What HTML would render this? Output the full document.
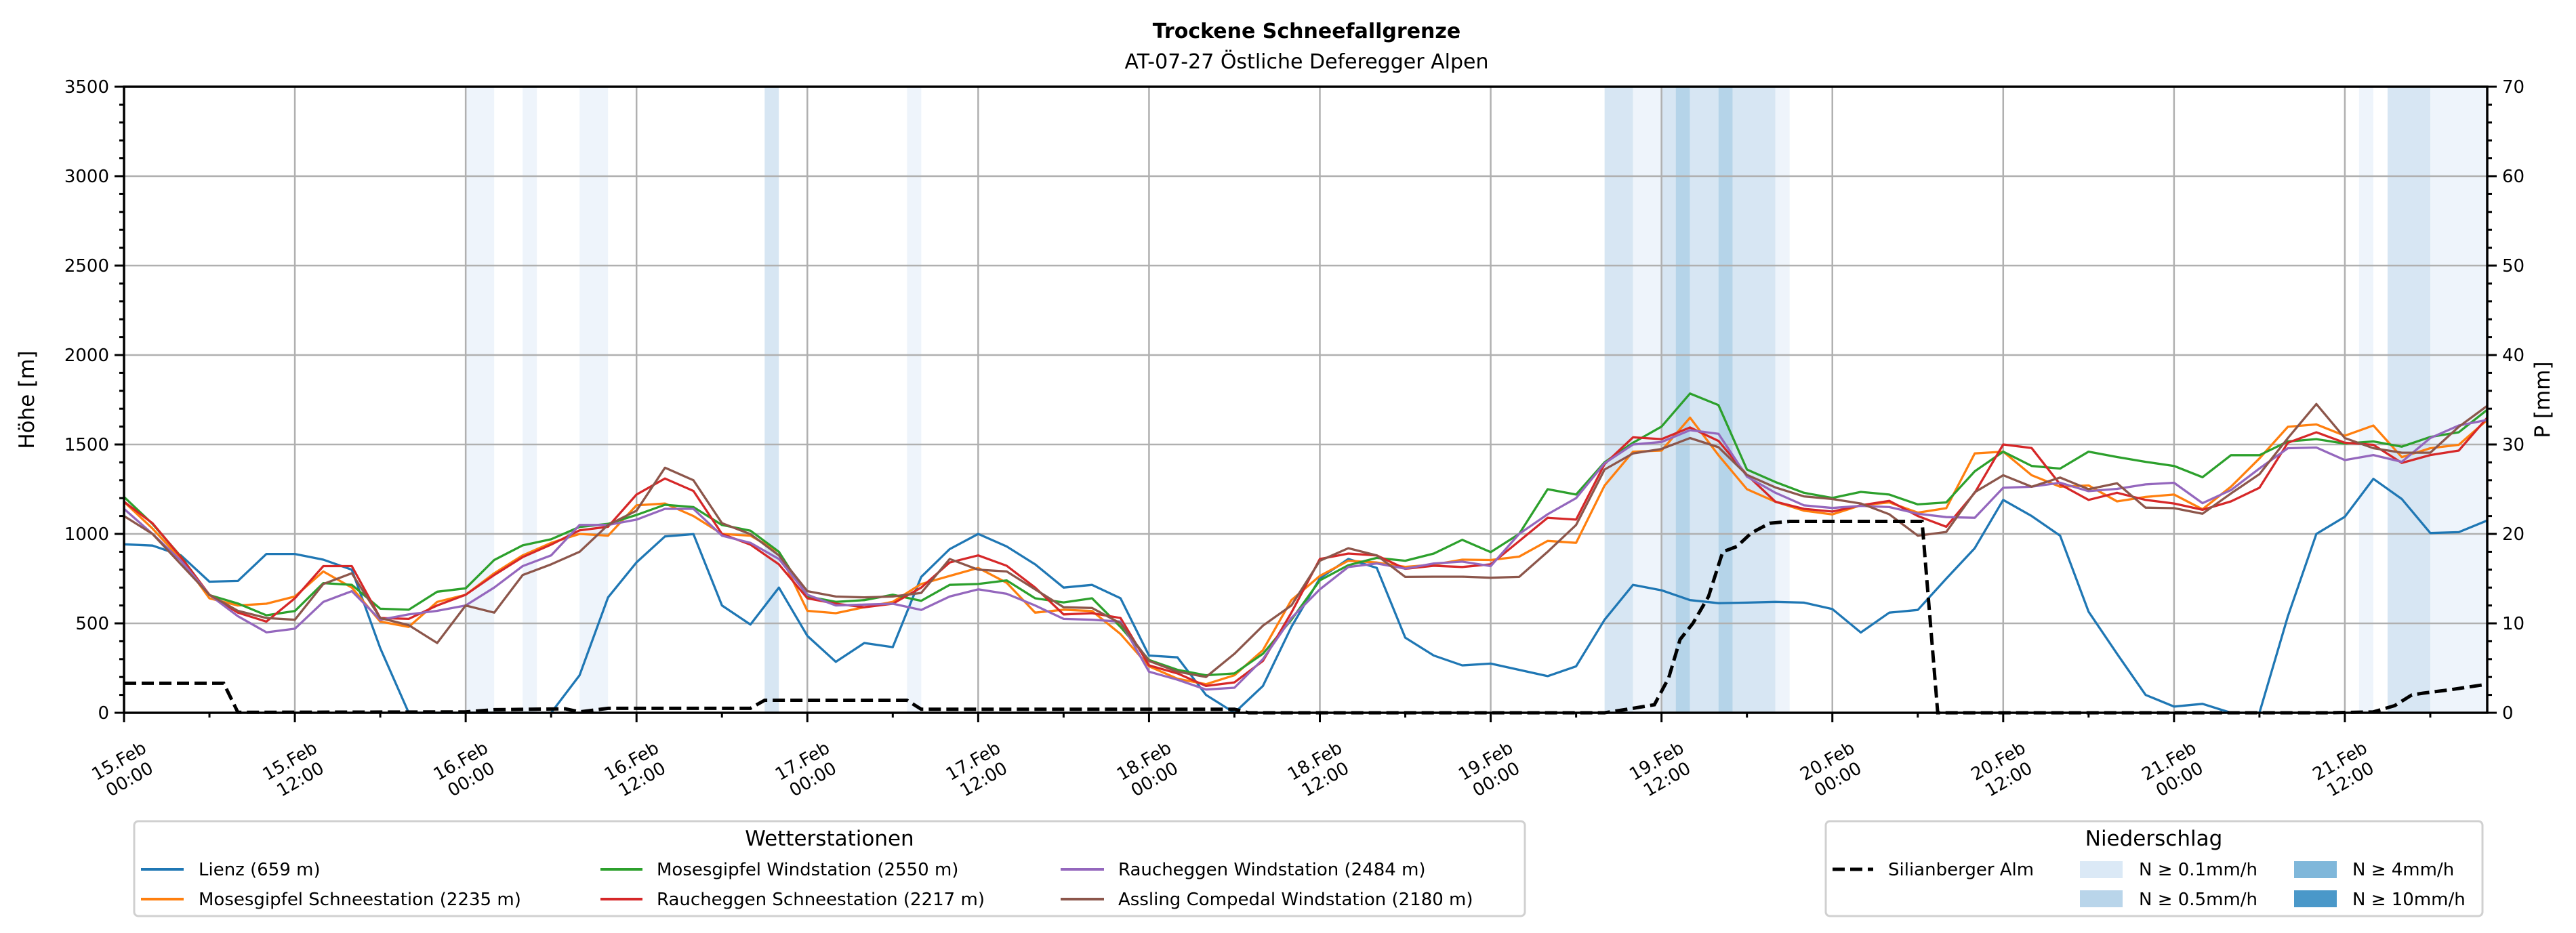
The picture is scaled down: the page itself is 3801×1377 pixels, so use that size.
<!DOCTYPE html>
<html><head><meta charset="utf-8"><style>
html,body{margin:0;padding:0;background:#fff;}
svg{display:block;font-family:"DejaVu Sans","Liberation Sans",sans-serif;}
</style></head><body>
<svg id="chart" width="3801" height="1377" viewBox="0 0 3801 1377" xmlns="http://www.w3.org/2000/svg">
<rect width="3801" height="1377" fill="#fff"/>
<text x="1928" y="56" text-anchor="middle" font-size="30" font-weight="bold">Trockene Schneefallgrenze</text>
<text x="1928" y="101" text-anchor="middle" font-size="30">AT-07-27 Östliche Deferegger Alpen</text>
<g id="bands"></g>
<g id="grid"></g>
<g id="series"></g>
<g id="axes"></g>
<text transform="translate(50,590) rotate(-90)" text-anchor="middle" font-size="31">Höhe [m]</text>
<text transform="translate(3762,590) rotate(-90)" text-anchor="middle" font-size="31">P [mm]</text>
<g>
<rect x="198" y="1212" width="2052" height="140" rx="6" fill="#fff" stroke="#d0d0d0" stroke-width="3"/>
<text x="1224" y="1248" text-anchor="middle" font-size="31">Wetterstationen</text>
<line x1="208" y1="1283" x2="271" y2="1283" stroke="#1f77b4" stroke-width="4"/><text x="293" y="1292" font-size="26">Lienz (659 m)</text>
<line x1="208" y1="1327" x2="271" y2="1327" stroke="#ff7f0e" stroke-width="4"/><text x="293" y="1336" font-size="26">Mosesgipfel Schneestation (2235 m)</text>
<line x1="886" y1="1283" x2="948" y2="1283" stroke="#2ca02c" stroke-width="4"/><text x="969" y="1292" font-size="26">Mosesgipfel Windstation (2550 m)</text>
<line x1="886" y1="1327" x2="948" y2="1327" stroke="#d62728" stroke-width="4"/><text x="969" y="1336" font-size="26">Raucheggen Schneestation (2217 m)</text>
<line x1="1565" y1="1283" x2="1629" y2="1283" stroke="#9467bd" stroke-width="4"/><text x="1650" y="1292" font-size="26">Raucheggen Windstation (2484 m)</text>
<line x1="1565" y1="1327" x2="1629" y2="1327" stroke="#8c564b" stroke-width="4"/><text x="1650" y="1336" font-size="26">Assling Compedal Windstation (2180 m)</text>
</g>
<g>
<rect x="2694" y="1212" width="969" height="140" rx="6" fill="#fff" stroke="#d0d0d0" stroke-width="3"/>
<text x="3178" y="1248" text-anchor="middle" font-size="31">Niederschlag</text>
<line x1="2704" y1="1283" x2="2764" y2="1283" stroke="#000" stroke-width="5" stroke-dasharray="18,8"/><text x="2786" y="1292" font-size="26">Silianberger Alm</text>
<rect x="3069" y="1271" width="63" height="25" fill="#dbe9f6"/><text x="3156" y="1292" font-size="26">N ≥ 0.1mm/h</text>
<rect x="3069" y="1314" width="63" height="25" fill="#b9d5ea"/><text x="3156" y="1336" font-size="26">N ≥ 0.5mm/h</text>
<rect x="3385" y="1271" width="63" height="25" fill="#7fb7da"/><text x="3471" y="1292" font-size="26">N ≥ 4mm/h</text>
<rect x="3385" y="1314" width="63" height="25" fill="#4a98c9"/><text x="3471" y="1336" font-size="26">N ≥ 10mm/h</text>
</g>
</svg>
<script>
const hours = [0,2,4,6,8,10,12,14,16,18,20,22,
24,26,28,30,32,34,36,38,40,42,44,46,
48,50,52,54,56,58,60,62,64,66,68,70,
72,74,76,78,80,82,84,86,88,90,92,94,
96,98,100,102,104,106,108,110,112,114,116,118,
120,122,124,126,128,130,132,134,136,138,140,142,
144,146,148,150,152,154,156,158,160,162,164,166];
const lienz = [942,935,880,733,737,888,888,856,800,361,0,0,
0,0,0,0,210,645,841,986,999,600,493,700,
430,285,390,367,760,915,1000,930,830,700,715,640,
320,310,100,0,150,480,752,860,810,420,320,265,
275,240,205,260,520,715,685,630,613,616,620,616,
580,449,560,575,750,920,1190,1100,990,565,330,100,
35,50,0,0,540,1000,1096,1308,1195,1005,1010,1075];
const mosesSchnee = [1180,1030,860,640,600,610,650,790,700,510,480,620,
660,780,880,950,1000,990,1160,1170,1100,1000,990,900,
570,557,590,620,720,765,810,727,560,576,569,440,
260,190,160,210,350,630,765,850,840,816,828,856,
854,873,961,950,1270,1460,1466,1650,1440,1250,1180,1130,
1109,1160,1176,1119,1144,1450,1460,1328,1264,1271,1182,1207,
1220,1138,1264,1422,1599,1612,1549,1606,1429,1479,1498,1637];
const mosesWind = [1207,1056,873,658,611,545,569,725,715,582,576,677,
696,854,936,970,1039,1056,1106,1163,1150,1050,1018,900,
650,620,630,660,626,715,720,740,640,617,640,480,
295,240,210,220,330,520,740,825,866,850,890,967,
898,1000,1250,1220,1400,1510,1600,1785,1720,1360,1290,1230,
1201,1235,1220,1165,1176,1350,1460,1380,1365,1460,1430,1403,
1380,1317,1440,1440,1517,1530,1505,1517,1488,1542,1568,1694];
const rauchSchnee = [1180,1060,870,660,560,510,640,820,820,530,525,600,
660,770,870,940,1020,1040,1220,1310,1240,1000,940,830,
640,610,590,610,700,840,880,822,700,550,557,530,
265,220,150,170,290,560,860,890,880,805,822,815,
830,960,1090,1080,1390,1540,1530,1595,1520,1330,1180,1140,
1125,1160,1185,1100,1040,1230,1500,1480,1277,1190,1230,1190,
1170,1135,1182,1258,1510,1568,1510,1498,1397,1441,1466,1650];
const rauchWind = [1140,1000,850,660,540,450,470,620,680,520,550,570,
600,700,820,880,1050,1050,1080,1140,1140,990,950,860,
660,600,605,610,575,650,690,665,600,525,520,510,
230,185,130,140,300,530,690,815,835,806,835,845,
820,1000,1110,1200,1395,1500,1514,1580,1560,1320,1230,1160,
1145,1157,1150,1113,1094,1090,1258,1264,1286,1239,1252,1277,
1286,1172,1245,1366,1479,1483,1413,1441,1403,1536,1606,1637];
const assling = [1100,1000,830,660,570,530,520,720,780,530,490,390,
600,560,770,830,900,1050,1130,1370,1300,1060,999,880,
680,650,645,650,670,860,800,790,690,590,586,500,
290,230,200,330,487,600,850,920,880,760,761,761,
755,760,900,1050,1360,1450,1475,1536,1485,1330,1260,1210,
1195,1170,1110,990,1011,1233,1328,1264,1315,1250,1283,1147,
1144,1113,1226,1334,1536,1726,1536,1479,1454,1454,1599,1716];
const precipHours = [0,7,8,24,26,31,32,34,44,45,55,56,78,79,104,106,107.5,108.5,109.3,110.2,111.3,112.3,113.3,114.3,115.6,117,126.3,127.4,155,158,159.5,160.7,161.5,163.5,166];
const precipMm = [3.3,3.3,0.05,0.1,0.35,0.45,0.1,0.5,0.5,1.4,1.4,0.4,0.4,0,0,0.5,0.9,3.9,8.2,10,13,18,18.6,20.1,21.2,21.4,21.4,0,0,0.1,0.8,2.0,2.2,2.6,3.2];
const bandStart = [24,28,32,45,55,104,106,108,109,110,112,113,116,157,159,162];
const bandEnd =   [26,29,34,46,56,106,108,109,110,112,113,116,117,158,162,166];
const bandLevel = [1,1,1,2,1,2,1,2,3,2,3,2,1,1,2,1];
const yTicks = [0,500,1000,1500,2000,2500,3000,3500];
const y2Ticks = [0,10,20,30,40,50,60,70];
const xTickHours = [0,12,24,36,48,60,72,84,96,108,120,132,144,156];
const xTickDates = ["15.Feb","15.Feb","16.Feb","16.Feb","17.Feb","17.Feb","18.Feb","18.Feb","19.Feb","19.Feb","20.Feb","20.Feb","21.Feb","21.Feb"];
const xTickTimes = ["00:00","12:00","00:00","12:00","00:00","12:00","00:00","12:00","00:00","12:00","00:00","12:00","00:00","12:00"];

const NS='http://www.w3.org/2000/svg';
const L=183,R=3670,T=128,B=1052,HMAX=166;
const xS=h=>L+(R-L)*h/HMAX;
const yS=v=>B-(B-T)*v/3500;
const y2S=v=>B-(B-T)*v/70;
function mk(tag,attrs,parent){const e=document.createElementNS(NS,tag);for(const k in attrs)e.setAttribute(k,attrs[k]);parent.appendChild(e);return e;}
const bandsG=document.getElementById('bands'),gridG=document.getElementById('grid'),seriesG=document.getElementById('series'),axesG=document.getElementById('axes');
const bandColors=['','#eef4fb','#d7e6f3','#b5d4e9'];
for(let i=0;i<bandStart.length;i++){
  const r=mk('rect',{x:xS(bandStart[i]),y:T,width:xS(bandEnd[i])-xS(bandStart[i]),height:B-T,fill:bandColors[bandLevel[i]]},bandsG);
  
  
}
for(const v of yTicks){const l=mk('line',{x1:L,x2:R,y1:yS(v),y2:yS(v),stroke:'#b0b0b0','stroke-width':2.5},gridG);
  
  }
for(const h of xTickHours){const l=mk('line',{x1:xS(h),x2:xS(h),y1:T,y2:B,stroke:'#b0b0b0','stroke-width':2.5},gridG);
  
  }
function drawLine(vals,color,name){
  const d=hours.map((h,i)=>(i?'L':'M')+xS(h).toFixed(1)+','+yS(vals[i]).toFixed(1)).join('');
  const p=mk('path',{d:d,fill:'none',stroke:color,'stroke-width':3.3,'stroke-linejoin':'round'},seriesG);
  
  
}
drawLine(lienz,'#1f77b4','lienz-line');
drawLine(mosesSchnee,'#ff7f0e','mosesgipfel-schneestation-line');
drawLine(mosesWind,'#2ca02c','mosesgipfel-windstation-line');
drawLine(rauchSchnee,'#d62728','raucheggen-schneestation-line');
drawLine(rauchWind,'#9467bd','raucheggen-windstation-line');
drawLine(assling,'#8c564b','assling-compedal-line');
const pd=precipHours.map((h,i)=>(i?'L':'M')+xS(h).toFixed(1)+','+y2S(precipMm[i]).toFixed(1)).join('');
const pp=mk('path',{d:pd,fill:'none',stroke:'#000','stroke-width':5,'stroke-dasharray':'18,8'},seriesG);


mk('rect',{x:L,y:T,width:R-L,height:B-T,fill:'none',stroke:'#000','stroke-width':3.5},axesG);
for(let v=0;v<=3500;v+=100){const maj=v%500===0;mk('line',{x1:L,x2:L-(maj?14:7),y1:yS(v),y2:yS(v),stroke:'#000','stroke-width':3},axesG);}
for(let v=0;v<=70;v+=2){const maj=v%10===0;mk('line',{x1:R,x2:R+(maj?14:7),y1:y2S(v),y2:y2S(v),stroke:'#000','stroke-width':3},axesG);}
for(let h=0;h<=HMAX;h+=6){const maj=h%12===0;mk('line',{x1:xS(h),x2:xS(h),y1:B,y2:B+(maj?14:7),stroke:'#000','stroke-width':3},axesG);}
for(const v of yTicks){const t=mk('text',{x:L-22,y:yS(v)+9,'text-anchor':'end','font-size':26},axesG);t.textContent=v;
  
  }
for(const v of y2Ticks){const t=mk('text',{x:R+22,y:y2S(v)+9,'font-size':26},axesG);t.textContent=v;
  
  }
xTickHours.forEach((h,i)=>{
  const g=mk('g',{transform:'translate('+xS(h)+',1136) rotate(-30)'},axesG);
  
  
  const a=mk('text',{x:0,y:-6,'text-anchor':'middle','font-size':26},g);a.textContent=xTickDates[i];
  const b=mk('text',{x:0,y:25,'text-anchor':'middle','font-size':26},g);b.textContent=xTickTimes[i];
});
</script>
</body></html>
